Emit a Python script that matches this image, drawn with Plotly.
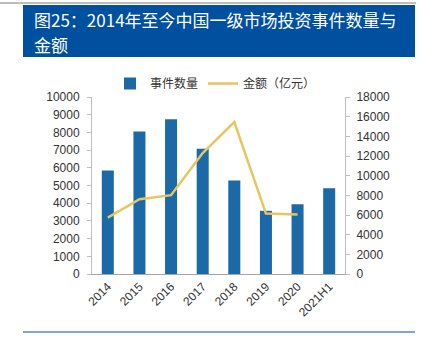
import plotly.graph_objects as go

# Data
years = ["2014", "2015", "2016", "2017", "2018", "2019", "2020", "2021H1"]
event_counts = [5850, 8050, 8750, 7070, 5280, 3570, 3940, 4850]
amounts = [5740, 7610, 8020, 12300, 15450, 6140, 6040, None]

title_lines = ["图25：2014年至今中国一级市场投资事件数量与", "金额"]

W, H = 423, 343
L, R, T, B = 92, 345, 97, 274  # plot area in pixels


def px(x):
    return (x - L) / (R - L)


def py(y):
    return (B - y) / (B - T)


fig = go.Figure()
fig.add_trace(go.Bar(
    x=years, y=event_counts, name="事件数量",
    marker=dict(color="#1B6AA7", line=dict(width=0)),
    width=0.38, yaxis="y",
))
fig.add_trace(go.Scatter(
    x=years, y=amounts, name="金额（亿元）", mode="lines",
    line=dict(color="#E5C661", width=2.5),
    yaxis="y2", connectgaps=False,
))

axis_font = dict(family="Liberation Sans, Arial, sans-serif", size=12, color="#333333")

title_annotations = [
    dict(text=line, xref="paper", yref="paper",
         x=px(32), y=py(yc), xanchor="left", yanchor="middle",
         align="left", showarrow=False,
         font=dict(family="Noto Sans CJK SC, sans-serif", size=17, color="white"))
    for line, yc in zip(title_lines, [20, 44])
]

fig.update_layout(
    width=W, height=H,
    margin=dict(l=L, r=W - R, t=T, b=H - B, pad=0),
    paper_bgcolor="white", plot_bgcolor="white",
    font=dict(family="Liberation Sans, Noto Sans CJK SC, sans-serif", size=12, color="#333333"),
    showlegend=True,
    legend=dict(
        orientation="h", x=px(110), y=py(69), xanchor="left", yanchor="top",
        font=dict(size=12, color="#333333", family="Noto Sans CJK SC, sans-serif"),
        itemwidth=30, tracegroupgap=0, bgcolor="rgba(0,0,0,0)",
    ),
    xaxis=dict(
        type="category", showgrid=False, showline=True, linecolor="#A6A6A6", linewidth=1,
        ticks="", tickangle=-45, tickfont=axis_font,
    ),
    yaxis=dict(
        range=[0, 10000], dtick=1000, tickformat="d", showgrid=False, showline=True,
        linecolor="#BFBFBF", linewidth=1, ticks="outside", ticklen=4,
        tickcolor="#BFBFBF", tickfont=axis_font, zeroline=False,
        ticklabelstandoff=5,
    ),
    yaxis2=dict(
        range=[0, 18000], dtick=2000, tickformat="d", overlaying="y", side="right",
        showgrid=False, showline=True, linecolor="#BFBFBF", linewidth=1,
        ticks="outside", ticklen=4, tickcolor="#BFBFBF", tickfont=axis_font,
        zeroline=False, ticklabelstandoff=4,
    ),
    shapes=[
        # title banner
        dict(type="rect", xref="paper", yref="paper",
             x0=px(23), x1=px(415), y0=py(57), y1=py(5),
             fillcolor="#0050A0", line=dict(width=0), layer="below"),
        # top rule
        dict(type="line", xref="paper", yref="paper",
             x0=px(0), x1=px(416), y0=py(3), y1=py(3),
             line=dict(color="#BDBDBD", width=2)),
        # bottom rule
        dict(type="line", xref="paper", yref="paper",
             x0=px(23), x1=px(415), y0=py(332), y1=py(332),
             line=dict(color="#7EA6D6", width=2)),
    ],
    annotations=title_annotations,
)

fig.write_html("out.html")
